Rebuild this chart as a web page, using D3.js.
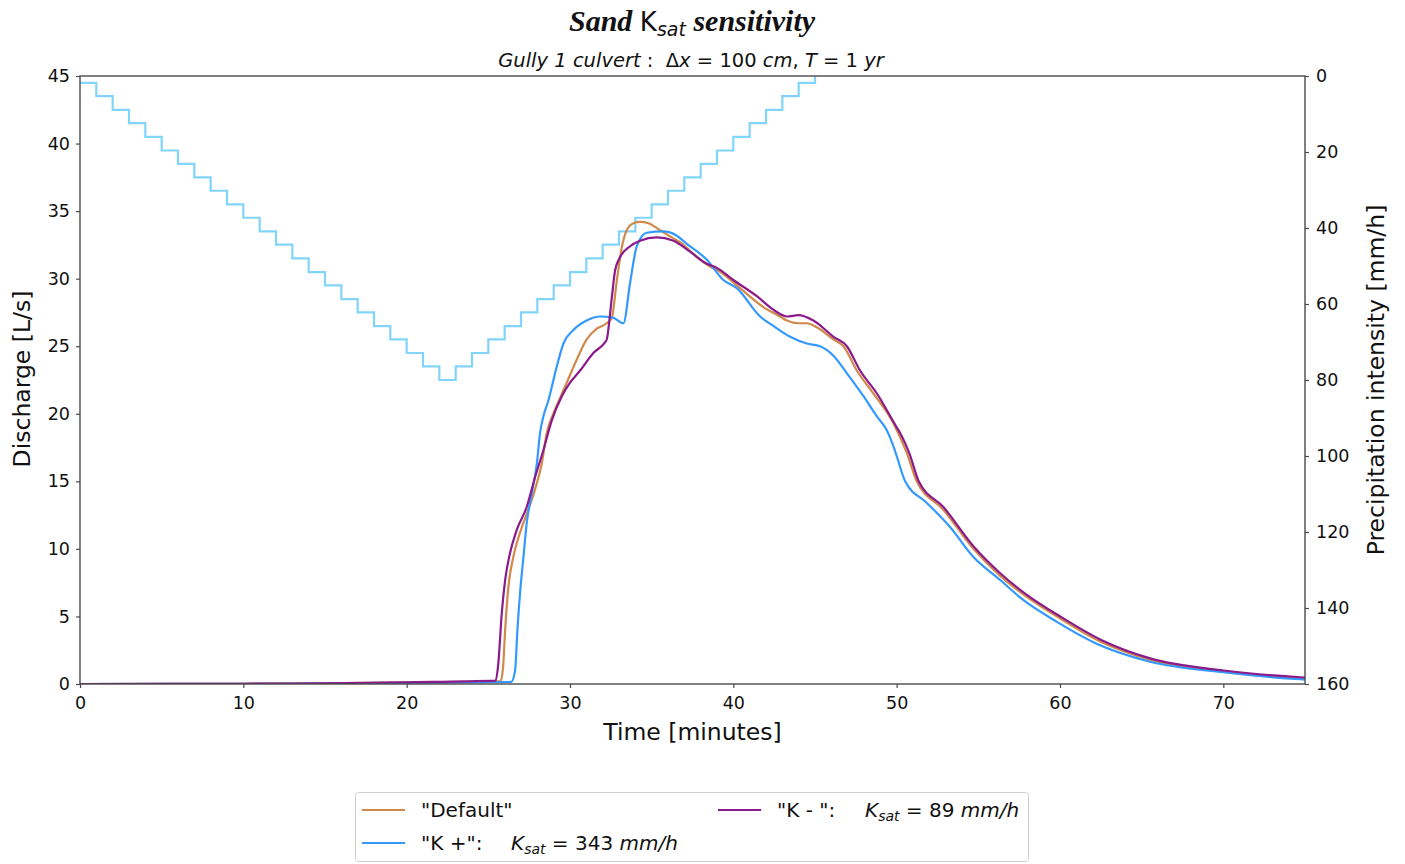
<!DOCTYPE html>
<html>
<head>
<meta charset="utf-8">
<script src="https://cdn.jsdelivr.net/npm/d3@7"></script>
<style>
  body { margin: 0; background: #fff; }
  svg { display: block; }
  text { font-family: "DejaVu Sans", sans-serif; fill: #111; white-space: pre; }
</style>
</head>
<body>
<svg id="chart" width="1405" height="864"></svg>
<script>
// ---------- data ----------
const xTicks = [0, 10, 20, 30, 40, 50, 60, 70];
const yTicksLeft = [0, 5, 10, 15, 20, 25, 30, 35, 40, 45];
const yTicksRight = [0, 20, 40, 60, 80, 100, 120, 140, 160];

// precipitation, one value per minute starting at rainTime
const rainTime = [0,1,2,3,4,5,6,7,8,9,10,11,12,13,14,15,16,17,18,19,20,21,22,23,24,25,26,27,28,29,30,31,32,33,34,35,36,37,38,39,40,41,42,43,44,45];
const rainValue = [1.8,5.3,8.9,12.4,16.0,19.6,23.1,26.7,30.2,33.8,37.3,40.9,44.4,48.0,51.6,55.1,58.7,62.2,65.8,69.3,72.9,76.4,80.0,
                   76.4,72.9,69.3,65.8,62.2,58.7,55.1,51.6,48.0,44.4,40.9,37.3,33.8,30.2,26.7,23.1,19.6,16.0,12.4,8.9,5.3,1.8,0];

// discharge series [time (min), discharge (L/s)]
const defaultSeries = [[0,0],[10,0.02],[15,0.05],[20,0.12],[25.75,0.22],[25.9,1.2],[26.03,4.0],[26.23,7.2],[26.53,9.4],
  [26.94,11.2],[27.45,12.9],[27.86,14.4],[28.27,16.3],[28.58,18.6],[28.98,20.0],[29.4,21.2],[29.8,22.3],[30.41,24.0],
  [31.02,25.5],[31.64,26.3],[32.25,26.7],[32.56,27.1],[32.86,29.8],[33.17,32.3],[33.48,33.6],[33.88,34.1],[34.29,34.2],
  [34.8,34.1],[35.5,33.6],[36.3,33.0],[36.74,32.7],[37.76,31.6],[38.58,30.9],[39.19,30.5],[40.41,29.3],[41.84,27.9],
  [42.86,27.2],[43.28,26.9],[44.0,26.7],[44.5,26.7],[45.11,26.4],[46.13,25.5],[46.74,25.0],[47.56,23.2],[48.58,21.5],
  [49.8,19.3],[50.62,17.1],[51.23,15.0],[52.86,12.9],[54.7,10.0],[56.34,8.0],[57.97,6.45],[60.01,4.85],[62.46,3.15],
  [65.52,1.8],[70.01,0.9],[74.71,0.42],[75,0.4]];

const kPlusSeries = [[0,0],[10,0.01],[15,0.03],[20,0.08],[26.4,0.15],[26.64,1.0],[26.78,4.0],[26.94,6.7],[27.15,9.4],
  [27.35,11.9],[27.66,14.1],[27.97,16.3],[28.17,18.6],[28.37,19.8],[28.68,21.0],[29.19,23.5],[29.6,25.2],[30.21,26.2],
  [31.02,26.9],[31.84,27.2],[32.66,27.1],[33.27,26.7],[33.68,29.7],[34.09,32.4],[34.7,33.4],[35.7,33.5],[36.52,33.2],
  [37.13,32.6],[38.38,31.4],[39.39,29.9],[40.21,29.3],[41.64,27.2],[42.45,26.5],[43.48,25.7],[44.5,25.2],[45.31,25.0],
  [46.13,24.3],[46.95,23.0],[47.97,21.3],[48.79,19.8],[49.39,18.8],[49.8,17.6],[50.02,16.8],[50.52,15.0],[51.85,13.4],
  [53.28,11.6],[54.7,9.4],[56.34,7.7],[57.77,6.2],[59.81,4.6],[62.21,3.0],[65.52,1.65],[70.01,0.87],[74.71,0.35],[75,0.33]];

const kMinusSeries = [[0,0],[10,0.02],[15,0.05],[20,0.13],[25.45,0.25],[25.61,1.5],[25.82,5.2],[26.03,7.7],[26.33,9.7],
  [26.74,11.4],[27.35,13.1],[27.86,15.3],[28.37,17.3],[28.88,19.5],[29.5,21.3],[30.0,22.3],[30.62,23.2],[31.43,24.5],
  [32.15,25.3],[32.25,25.5],[32.56,28.6],[32.76,30.6],[33.07,31.6],[33.68,32.4],[34.29,32.8],[35.31,33.05],[36.33,32.8],
  [37.35,32.0],[38.38,31.1],[38.99,30.8],[40.0,29.9],[41.44,28.7],[42.45,27.7],[43.28,27.2],[43.99,27.3],[44.9,26.9],
  [46.13,25.7],[46.95,25.0],[47.76,23.2],[48.79,21.5],[50.0,19.0],[50.2,18.6],[50.8,17.0],[51.35,15.0],[52.86,13.1],
  [54.7,10.2],[56.34,8.2],[57.97,6.6],[60.01,5.0],[62.46,3.3],[65.52,1.9],[70.01,1.0],[74.71,0.5],[75,0.48]];

const seriesColors = { def: "#d0894b", kplus: "#3399ff", kminus: "#8b1a8b", rain: "#82d5fa" };

// ---------- layout ----------
const svg = d3.select("#chart");
const plotLeft = 80, plotRight = 1305, plotTop = 76, plotBottom = 684;

const x = d3.scaleLinear().domain([0, 75]).range([plotLeft, plotRight]);
const yL = d3.scaleLinear().domain([0, 45]).range([plotBottom, plotTop]);
const yR = d3.scaleLinear().domain([0, 160]).range([plotTop, plotBottom]);

svg.append("clipPath").attr("id", "plotclip")
  .append("rect").attr("x", plotLeft).attr("y", plotTop).attr("width", plotRight - plotLeft).attr("height", plotBottom - plotTop);

const plot = svg.append("g").attr("clip-path", "url(#plotclip)");

// rainfall step line
const rainLine = d3.line().curve(d3.curveStepAfter)
  .x((d, i) => x(rainTime[i])).y((d, i) => yR(rainValue[i]));
plot.append("path").datum(rainValue).attr("d", rainLine)
  .attr("fill", "none").attr("stroke", seriesColors.rain).attr("stroke-width", 2.2);

// discharge lines
const qLine = d3.line().curve(d3.curveMonotoneX).x(d => x(d[0])).y(d => yL(d[1]));
[[defaultSeries, seriesColors.def], [kPlusSeries, seriesColors.kplus], [kMinusSeries, seriesColors.kminus]]
  .forEach(([s, c]) => {
    plot.append("path").datum(s).attr("d", qLine)
      .attr("fill", "none").attr("stroke", c).attr("stroke-width", 2.2)
      .attr("stroke-linejoin", "round");
  });

// axes
const axisColor = "#4a4a4a";
const gx = svg.append("g").attr("transform", `translate(0,${plotBottom})`)
  .call(d3.axisBottom(x).tickValues(xTicks).tickSize(4).tickPadding(9).tickFormat(d3.format("d")));
const gyl = svg.append("g").attr("transform", `translate(${plotLeft},0)`)
  .call(d3.axisLeft(yL).tickValues(yTicksLeft).tickSize(4).tickPadding(6).tickFormat(d3.format("d")));
const gyr = svg.append("g").attr("transform", `translate(${plotRight},0)`)
  .call(d3.axisRight(yR).tickValues(yTicksRight).tickSize(4).tickPadding(7).tickFormat(d3.format("d")));
[gx, gyl, gyr].forEach(g => {
  g.select(".domain").remove();
  g.selectAll(".tick line").attr("stroke", axisColor).attr("stroke-width", 1.2);
  g.selectAll(".tick text").attr("font-size", 17.5).attr("fill", "#1a1a1a")
    .attr("font-family", "DejaVu Sans, sans-serif");
});

// frame
svg.append("rect").attr("x", plotLeft).attr("y", plotTop).attr("width", plotRight - plotLeft).attr("height", plotBottom - plotTop)
  .attr("fill", "none").attr("stroke", axisColor).attr("stroke-width", 1.4);

// axis labels
svg.append("text").attr("x", (plotLeft + plotRight) / 2).attr("y", 740).attr("text-anchor", "middle")
  .attr("font-size", 23.5).text("Time [minutes]");
svg.append("text").attr("transform", `translate(30,${(plotTop + plotBottom) / 2 - 1}) rotate(-90)`)
  .attr("text-anchor", "middle").attr("font-size", 23.5).text("Discharge [L/s]");
svg.append("text").attr("transform", `translate(1384,${(plotTop + plotBottom) / 2}) rotate(-90)`)
  .attr("text-anchor", "middle").attr("font-size", 23.5).text("Precipitation intensity [mm/h]");

// title
const title = svg.append("text").attr("x", 692).attr("y", 31).attr("text-anchor", "middle")
  .attr("font-size", 30);
title.append("tspan").attr("font-family", "Liberation Serif, serif").attr("font-weight", "bold")
  .attr("font-style", "italic").text("Sand ");
title.append("tspan").attr("font-family", "DejaVu Sans, sans-serif").attr("font-size", 26).text("K");
title.append("tspan").attr("font-family", "DejaVu Sans, sans-serif").attr("font-style", "italic")
  .attr("font-size", 19).attr("dy", 5).text("sat");
title.append("tspan").attr("font-family", "Liberation Serif, serif").attr("font-weight", "bold")
  .attr("font-style", "italic").attr("dy", -5).text(" sensitivity");

// subtitle
const sub = svg.append("text").attr("x", 691).attr("y", 67).attr("text-anchor", "middle").attr("font-size", 19.5);
const subParts = [["Gully 1 culvert", true], [" :  Δ", false], ["x", true], [" = 100 ", false], ["cm", true],
  [", ", false], ["T", true], [" = 1 ", false], ["yr", true]];
subParts.forEach(([t, it]) => sub.append("tspan").attr("font-style", it ? "italic" : "normal").text(t));

// legend
const lg = svg.append("g");
lg.append("rect").attr("x", 355.5).attr("y", 792.5).attr("width", 673).attr("height", 69).attr("rx", 3)
  .attr("fill", "#fff").attr("stroke", "#d0d0d0").attr("stroke-width", 1);
const legendItems = [
  { color: seriesColors.def, x: 362, y: 810, label: '"Default"', kx: null },
  { color: seriesColors.kplus, x: 362, y: 843, label: '"K +":', kx: 511, val: " = 343 " },
  { color: seriesColors.kminus, x: 718, y: 810, label: '"K - ":', kx: 865, val: " = 89 " }
];
legendItems.forEach(it => {
  lg.append("line").attr("x1", it.x).attr("x2", it.x + 43).attr("y1", it.y).attr("y2", it.y)
    .attr("stroke", it.color).attr("stroke-width", 2.2);
  const t = lg.append("text").attr("x", it.x + 59).attr("y", it.y + 7).attr("font-size", 20);
  t.append("tspan").text(it.label);
  if (it.kx !== null) {
    t.append("tspan").attr("x", it.kx).attr("font-style", "italic").text("K");
    t.append("tspan").attr("font-style", "italic").attr("font-size", 14).attr("dy", 4).text("sat");
    t.append("tspan").attr("dy", -4).text(it.val);
    t.append("tspan").attr("font-style", "italic").text("mm/h");
  }
});
</script>
</body>
</html>
